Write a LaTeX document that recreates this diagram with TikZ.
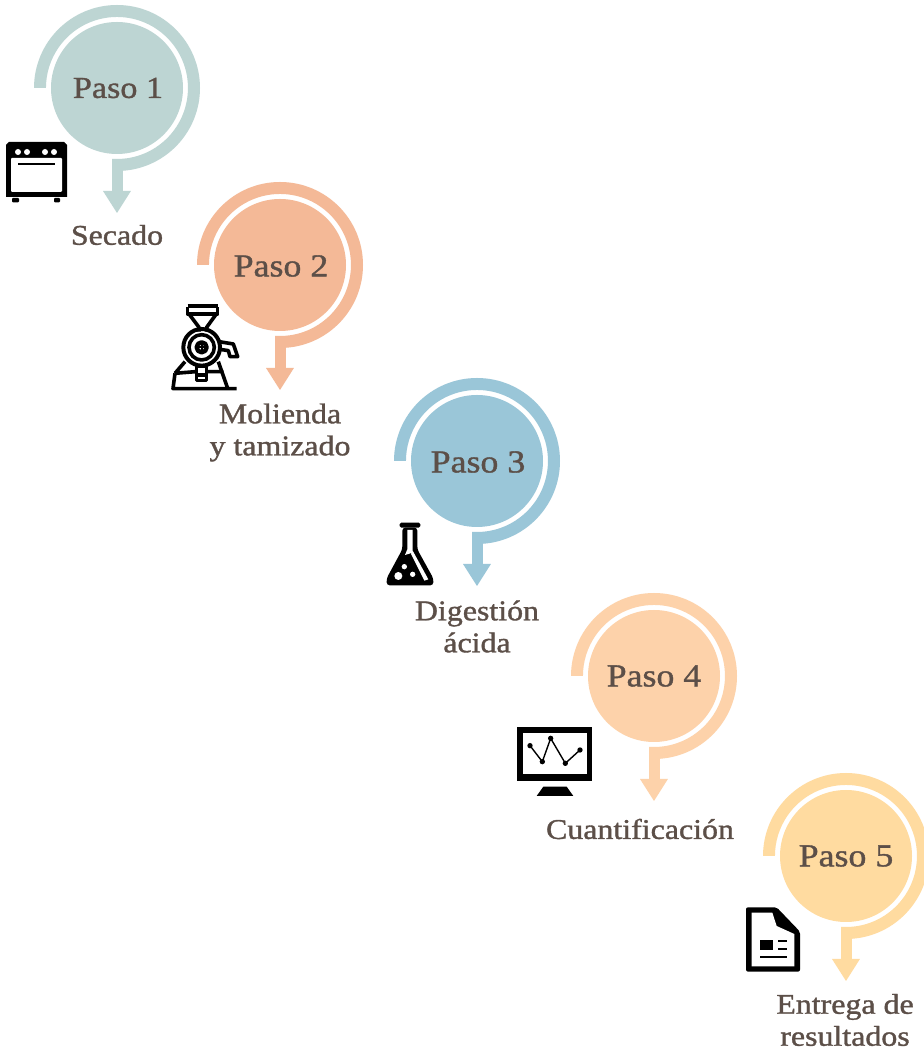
\documentclass[tikz,border=0pt]{standalone}
\usepackage{fontspec}
\setmainfont{Liberation Serif}[FakeStretch=1.12,FakeBold=1.2]
\definecolor{tealc}{HTML}{BDD5D3}
\definecolor{orangec}{HTML}{F4B997}
\definecolor{bluec}{HTML}{9AC6D8}
\definecolor{peachc}{HTML}{FDD2AA}
\definecolor{yellowc}{HTML}{FFDBA0}
\definecolor{inkc}{HTML}{5C4F48}
\tikzset{
  pasotext/.style={text=inkc,font=\fontsize{28.5}{32}\selectfont,align=center,inner sep=0pt},
  pasobig/.style={text=inkc,font=\fontsize{32}{32}\selectfont,align=center,inner sep=0pt},
  pasoone/.style={text=inkc,font=\fontsize{30.5}{32}\selectfont,align=center,inner sep=0pt},
  disc/.style={circle,minimum size=132pt,inner sep=0pt,fill=#1},
  iconline/.style={draw=black,line width=3.6pt,line join=round}
}
\newcommand{\pasoshape}[4]{% x, y (up), colour, name
  \node[disc=#3] (#4) at (#1,#2) {};
  \fill[#3] ([shift={(-83,0)}]#4.center) arc[start angle=180,end angle=-85.9,radius=83]
    -- ++(0,-20.2) -- ++(8,0) -- ([shift={(0,-125)}]#4.center) -- ([shift={(-14,-103)}]#4.center)
    -- ([shift={(-5,-103)}]#4.center) -- ([shift={(-5,-70.8)}]#4.center)
    arc[start angle=-94,end angle=180,radius=71] -- cycle;
}
\begin{document}
\begin{tikzpicture}[x=1pt,y=1pt]
\useasboundingbox (0,0) rectangle (924,1050);
\fill[white] (0,0) rectangle (924,1050);
% mill (lies under the disc of step 2)
\begin{scope}[shift={(165,760)},x=0.3333pt,y=-0.3333pt]
\draw[iconline] (68,48) -- (160,48);
\draw[iconline] (68,50) -- (68,72) -- (158,72) -- (158,50);
\draw[iconline] (72,72) -- (102,112) -- (102,125);
\draw[iconline] (154,72) -- (125,112) -- (125,125);
\draw[iconline,line width=4pt] (110,172) circle (55);
\draw[iconline] (110,172) circle (38);
\draw[iconline,line width=4.4pt] (110,172) circle (15);
\draw[iconline,line width=2pt] (98,172) -- (122,172) (110,160) -- (110,184);
\draw[iconline] (162,155) -- (205,162) -- (218,200) -- (195,200) -- (190,182) -- (165,178);
\draw[iconline] (60,215) -- (30,250) (160,215) -- (188,295);
\draw[iconline] (30,250) -- (24,296) -- (215,296);
\draw[iconline] (30,250) -- (92,245) (128,245) -- (175,245);
\fill[white] (95,228) rectangle (125,272);
\draw[iconline] (95,228) rectangle (125,272);
\draw[iconline] (95,255) -- (125,255);
\end{scope}
\pasoshape{117}{962}{tealc}{p1}
\pasoshape{280}{785}{orangec}{p2}
\pasoshape{477}{589}{bluec}{p3}
\pasoshape{654}{374}{peachc}{p4}
\pasoshape{846}{194}{yellowc}{p5}
\node[pasoone] (t1) at (118,962) {Paso 1};
\node[pasobig] (t2) at (281,784) {Paso 2};
\node[pasobig] (t3) at (478,588) {Paso 3};
\node[pasobig] (t4) at (654,374) {Paso 4};
\node[pasobig] (t5) at (846,194) {Paso 5};
\node[pasotext] (l1) at (117,815) {Secado};
\node[pasotext] (l2) at (280,617.5) {Molienda\\y tamizado};
\node[pasotext] (l3) at (477,423.5) {Digestión\\ácida};
\node[pasotext] (l4) at (640,221) {Cuantificación};
\node[pasotext] (l5) at (845,30) {Entrega de\\resultados};
% oven
\begin{scope}[shift={(0,1050)},y=-1pt]
\fill[black] (6,197) -- (6,145) -- (9,142) -- (64,142) -- (67,145) -- (67,197) -- cycle;
\fill[white,rounded corners=1pt] (11,158) rectangle (62,192);
\foreach \kx in {18,27,45,54} \fill[white] (\kx,152) circle (3);
\draw[black,line width=1.5pt] (18,164) -- (55,164);
\fill[black,rounded corners=1pt] (12,198) rectangle (19,202.5);
\fill[black,rounded corners=1pt] (54,198) rectangle (60,202.5);
\end{scope}
% flask
\begin{scope}[shift={(375,540)},x=0.3333pt,y=-0.3333pt]
\fill[black,rounded corners=1.5pt] (74,38) rectangle (136,53);
\fill[black,rounded corners=3pt] (82,53) -- (82,118) -- (35,205) -- (35,226) -- (175,226) -- (175,205) -- (127,118) -- (127,53) -- cycle;
\fill[white] (97,60) -- (113,60) -- (113,128) -- (90,135) -- (97,118) -- cycle;
\fill[white] (113,122) -- (160,208) -- (148,212) -- (108,132) -- cycle;
\fill[white] (70,198) circle (12);
\fill[white] (88,170) circle (8);
\fill[white] (113,193) circle (8);
\end{scope}
% monitor
\begin{scope}[shift={(505,335)},x=0.3333pt,y=-0.3333pt]
\fill[black] (37,37) rectangle (262,197);
\fill[white] (55,55) rectangle (245,178);
\fill[black] (115,215) -- (185,215) -- (205,243) -- (95,243) -- cycle;
\draw[black,line width=1.4pt] (75,92) -- (112,140) -- (137,70) -- (181,145) -- (225,105);
\foreach \dx/\dy in {75/92,112/140,137/70,181/145,225/105} \fill[black] (\dx,\dy) circle (8);
\end{scope}
% document
\begin{scope}[shift={(735,160)},x=0.3333pt,y=-0.3333pt]
\fill[black,rounded corners=2pt] (33,52) -- (125,52) -- (195,125) -- (195,245) -- (33,245) -- cycle;
\fill[white] (50,68) -- (112,68) -- (125,108) -- (178,132) -- (178,229) -- (50,229) -- cycle;
\fill[black] (75,150) rectangle (115,180);
\fill[black] (130,149) rectangle (155,156);
\fill[black] (130,173) rectangle (155,180);
\fill[black] (75,198) rectangle (155,205);
\end{scope}
\end{tikzpicture}
\end{document}
